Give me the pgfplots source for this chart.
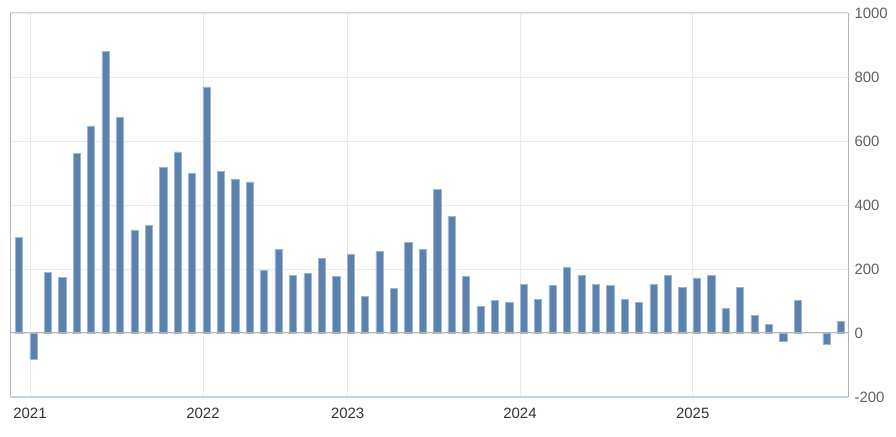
\documentclass[border=0pt]{standalone}
\usepackage{fontspec}
\setmainfont{Liberation Sans}
\usepackage{pgfplots}
\pgfplotsset{compat=1.18}
\definecolor{barblue}{HTML}{5B82AE}
\definecolor{baredge}{HTML}{9EB5CF}
\definecolor{gridc}{HTML}{EAEAEA}
\definecolor{axisg}{HTML}{B4B4B4}
\definecolor{axisb}{HTML}{C6D3E0}
\definecolor{ylab}{HTML}{606060}
\definecolor{xlab}{HTML}{333333}
\begin{document}
\begin{tikzpicture}
\useasboundingbox (0,0) rectangle (896bp,437bp);
\begin{axis}[
  at={(10bp,40bp)}, anchor=south west,
  scale only axis, width=838bp, height=384bp,
  xmin=0.376, xmax=58.49, ymin=-200, ymax=1000,
  ybar, bar width=0.5,
  axis line style={draw=none},
  major tick length=0pt,
  xtick={1.763,13.76,23.79,35.74,47.72},
  xticklabels={2021,2022,2023,2024,2025},
  ytick={-200,0,200,400,600,800,1000},
  yticklabel pos=right,
  xmajorgrids, ymajorgrids,
  grid style={gridc, line width=0.8bp},
  /pgf/number format/assume math mode=true,
  /pgf/number format/1000 sep={},
  tick label style={font=\fontsize{15}{18}\selectfont},
  yticklabel style={ylab, anchor=west, xshift=3bp},
  xticklabel style={xlab, yshift=-8bp},
  axis on top=false,
  clip=false,
]
\addplot[fill=barblue, draw=baredge, line width=0.5bp] table {
x y
1 299
2 -81
3 190
4 173
5 562
6 647
7 881
8 675
9 322
10 337
11 519
12 566
13 500
14 769
15 506
16 482
17 472
18 196
19 262
20 181
21 186
22 233
23 177
24 247
25 115
26 256
27 139
28 284
29 262
30 449
31 365
32 177
33 83
34 102
35 96
36 153
37 106
38 149
39 205
40 181
41 153
42 149
43 106
44 96
45 153
46 181
47 143
48 172
49 181
50 78
51 143
52 55
53 27
54 -25
55 102
57 -34
58 36
};
\draw[axisg, line width=1bp] (axis cs:0.376,0) -- (axis cs:58.49,0);
\draw[axisg, line width=1bp] (rel axis cs:0,0) -- (rel axis cs:0,1);
\draw[axisg, line width=1bp] (rel axis cs:1,0) -- (rel axis cs:1,1);
\draw[gridc!80!gray, line width=1bp] (rel axis cs:0,1) -- (rel axis cs:1,1);
\draw[axisb, line width=1.5bp] (rel axis cs:0,0) -- (rel axis cs:1,0);
\end{axis}
\end{tikzpicture}
\end{document}
